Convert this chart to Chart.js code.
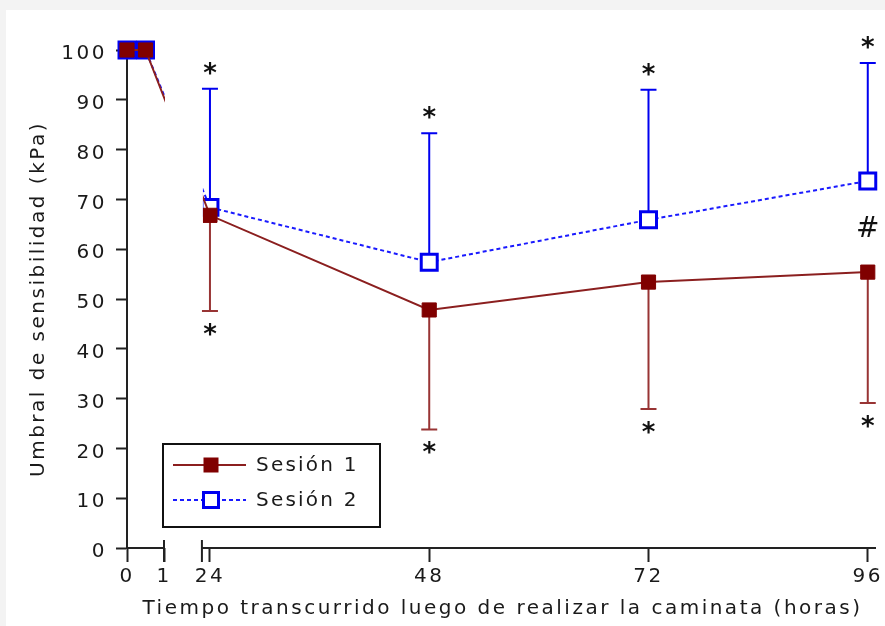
<!DOCTYPE html>
<html>
<head>
<meta charset="utf-8">
<script src="https://cdn.jsdelivr.net/npm/chart.js@4/dist/chart.umd.min.js"></script>
<style>
  html, body { margin: 0; padding: 0; background: #f3f3f3; }
  #wrap { position: absolute; left: 0; top: 0; width: 885px; height: 626px; }
  #panel { position: absolute; left: 6px; top: 10px; right: 0; bottom: 0; background: #ffffff; }
  #c { position: absolute; left: 0; top: 0; }
</style>
</head>
<body>
<div id="wrap">
  <div id="panel"></div>
  <canvas id="c" width="885" height="626"></canvas>
</div>
<script>
// Measurement times (hours after the walk) and tick labels on the time axis
const hours = [0, 0.5, 24, 48, 72, 96];
const tickHours = [0, 1, 24, 48, 72, 96];

// Mean threshold (kPa) per session
const sesion1 = [100, 100, 66.8, 47.8, 53.4, 55.4];
const sesion2 = [100, 100, 68.4, 57.4, 65.9, 73.7];

// Error bar ends: session 1 drawn downward, session 2 upward
const sesion1Low = [null, null, 47.6, 23.8, 27.9, 29.1];
const sesion2High = [null, null, 92.2, 83.3, 92.0, 97.4];

// Significance marks placed beyond each error bar
const sig1 = ['', '', '*', '*', '*', '*'];
const sig2 = ['', '', '*', '*', '*', '*'];

// Between-session mark
const hashHour = 96;
const hashValue = 64.5;

const seriesNames = ['Sesión 1', 'Sesión 2'];

// Broken time axis: 0–1 h gets its own short stretch, then the axis resumes at 24 h
const EARLY_SPAN = 4.05;
const BREAK_END = 8.2;
const LATE_START = 9.08;
function axisPos(h) { return h <= 1 ? h * EARLY_SPAN : LATE_START + (h - 24); }

const FONT = { family: 'DejaVu Sans, Verdana, sans-serif', size: 20 };
const TEXT = '#1a1a1a';
const RED = '#800000';
const RED_LINE = '#8b1f1f';
const RED_BAR = '#983434';
const BLUE = '#0000f0';
const BLUE_LINE = '#1a1aff';
const SPACING = '2.5px';

function setSpacing(chart) { chart.ctx.letterSpacing = SPACING; }
function noEdgePadding(s) {
  s.paddingLeft = 0; s.paddingRight = 0; s.paddingTop = 0; s.paddingBottom = 0;
}

const brokenAxis = {
  id: 'brokenAxis',
  beforeLayout(chart) { setSpacing(chart); },
  beforeDraw(chart) { setSpacing(chart); },
  beforeDatasetsDraw(chart) {
    const { ctx, scales: { x, y } } = chart;
    ctx.save();
    ctx.lineWidth = 2;
    ctx.setLineDash([]);
    const cap = 8;
    const bars = [
      { vals: sesion1, ends: sesion1Low, color: RED_BAR },
      { vals: sesion2, ends: sesion2High, color: BLUE }
    ];
    bars.forEach(b => {
      ctx.strokeStyle = b.color;
      hours.forEach((h, i) => {
        if (b.ends[i] == null) return;
        const px = x.getPixelForValue(axisPos(h));
        const y0 = y.getPixelForValue(b.vals[i]);
        const y1 = y.getPixelForValue(b.ends[i]);
        ctx.beginPath();
        ctx.moveTo(px, y0); ctx.lineTo(px, y1);
        ctx.moveTo(px - cap, y1); ctx.lineTo(px + cap, y1);
        ctx.stroke();
      });
    });
    ctx.restore();
    // hide the series inside the axis break
    const xb1 = x.getPixelForValue(axisPos(1)) + 1;
    const xb2 = x.getPixelForValue(BREAK_END) + 1;
    ctx.save();
    ctx.beginPath();
    ctx.rect(0, 0, xb1, chart.height);
    ctx.rect(xb2, 0, chart.width - xb2, chart.height);
    ctx.clip();
  },
  afterDatasetsDraw(chart) {
    const { ctx, scales: { x, y } } = chart;
    ctx.restore();
    ctx.save();
    ctx.letterSpacing = '0px';
    ctx.fillStyle = '#111';
    ctx.textAlign = 'center';
    ctx.textBaseline = 'alphabetic';
    ctx.font = 'bold 26px "DejaVu Sans"';
    hours.forEach((h, i) => {
      const px = x.getPixelForValue(axisPos(h));
      if (sig2[i]) ctx.fillText(sig2[i], px, y.getPixelForValue(sesion2High[i]) - 7);
      if (sig1[i]) ctx.fillText(sig1[i], px, y.getPixelForValue(sesion1Low[i]) + 32);
    });
    ctx.font = '28px "DejaVu Sans"';
    ctx.fillText('#', x.getPixelForValue(axisPos(hashHour)), y.getPixelForValue(hashValue) + 10);
    ctx.restore();
  },
  afterDraw(chart) {
    const { ctx, scales: { x }, chartArea } = chart;
    const yAx = chartArea.bottom;
    const p0 = x.getPixelForValue(0);
    const p1 = x.getPixelForValue(axisPos(1));
    const p2 = x.getPixelForValue(BREAK_END);
    ctx.save();
    ctx.strokeStyle = '#222';
    ctx.lineWidth = 2;
    ctx.setLineDash([]);
    ctx.beginPath();
    ctx.moveTo(p0 - 1, yAx); ctx.lineTo(p1, yAx);
    ctx.moveTo(p2, yAx); ctx.lineTo(chartArea.right - 2, yAx);
    ctx.moveTo(p1, yAx - 8); ctx.lineTo(p1, yAx + 14);
    ctx.moveTo(p2, yAx - 8); ctx.lineTo(p2, yAx + 14);
    ctx.stroke();

    // legend
    const bx = 163, by = 444, bw = 217, bh = 83;
    ctx.fillStyle = '#ffffff';
    ctx.fillRect(bx, by, bw, bh);
    ctx.strokeStyle = '#111';
    ctx.strokeRect(bx, by, bw, bh);
    const rows = [
      { y: by + 21, line: RED_LINE, dash: [], fill: RED, stroke: RED, bw: 1, side: 14 },
      { y: by + 56, line: BLUE_LINE, dash: [4, 3], fill: '#ffffff', stroke: BLUE, bw: 3, side: 15 }
    ];
    rows.forEach((r, i) => {
      ctx.strokeStyle = r.line;
      ctx.lineWidth = 2;
      ctx.setLineDash(r.dash);
      ctx.beginPath();
      ctx.moveTo(bx + 10, r.y); ctx.lineTo(bx + 83, r.y);
      ctx.stroke();
      ctx.setLineDash([]);
      ctx.fillStyle = r.fill;
      ctx.strokeStyle = r.stroke;
      ctx.lineWidth = r.bw;
      const cx = bx + 48;
      ctx.fillRect(cx - r.side / 2, r.y - r.side / 2, r.side, r.side);
      ctx.strokeRect(cx - r.side / 2, r.y - r.side / 2, r.side, r.side);
      ctx.letterSpacing = '2.2px';
      ctx.fillStyle = TEXT;
      ctx.font = '20px "DejaVu Sans"';
      ctx.textAlign = 'left';
      ctx.textBaseline = 'middle';
      ctx.fillText(seriesNames[i], bx + 93, r.y + 1);
    });
    ctx.restore();
  }
};

const chart = new Chart(document.getElementById('c'), {
  type: 'line',
  data: {
    datasets: [
      {
        label: seriesNames[0],
        data: hours.map((h, i) => ({ x: axisPos(h), y: sesion1[i] })),
        borderColor: RED_LINE,
        borderWidth: 2,
        pointStyle: 'rect',
        pointRadius: 10,
        pointHoverRadius: 10,
        pointBackgroundColor: RED,
        pointBorderColor: RED,
        pointBorderWidth: 1,
        tension: 0,
        clip: false
      },
      {
        label: seriesNames[1],
        data: hours.map((h, i) => ({ x: axisPos(h), y: sesion2[i] })),
        borderColor: BLUE_LINE,
        borderWidth: 2,
        borderDash: [4, 3],
        pointStyle: 'rect',
        pointRadius: 11.3,
        pointHoverRadius: 11.3,
        pointBackgroundColor: '#ffffff',
        pointBorderColor: BLUE,
        pointBorderWidth: 3,
        tension: 0,
        clip: false
      }
    ]
  },
  options: {
    responsive: false,
    animation: false,
    events: [],
    layout: { autoPadding: false, padding: { top: 50, right: 7, bottom: 0, left: 0 } },
    plugins: { legend: { display: false }, tooltip: { enabled: false } },
    scales: {
      x: {
        type: 'linear',
        min: 0,
        max: 82.2,
        afterBuildTicks: s => { s.ticks = tickHours.map(h => ({ value: axisPos(h) })); },
        afterFit: s => { s.height = 78; noEdgePadding(s); },
        ticks: {
          autoSkip: false,
          maxRotation: 0,
          padding: 3,
          color: TEXT,
          font: FONT,
          callback: (v, i) => String(tickHours[i])
        },
        grid: { drawOnChartArea: false, tickLength: 14, tickWidth: 2, tickColor: '#222' },
        border: { display: false },
        title: {
          display: true,
          text: 'Tiempo transcurrido luego de realizar la caminata (horas)',
          color: TEXT,
          font: FONT,
          padding: { top: 0, bottom: 5 }
        }
      },
      y: {
        min: 0,
        max: 100,
        afterFit: s => { s.width = 127; noEdgePadding(s); },
        ticks: { stepSize: 10, padding: 9, labelOffset: 4, color: TEXT, font: FONT },
        grid: { drawOnChartArea: false, tickLength: 11, tickWidth: 2, tickColor: '#222' },
        border: { display: true, color: '#222', width: 2 },
        title: {
          display: true,
          text: 'Umbral de sensibilidad (kPa)',
          color: TEXT,
          font: FONT,
          padding: { top: 27, bottom: 0 }
        }
      }
    }
  },
  plugins: [brokenAxis]
});
</script>
</body>
</html>
